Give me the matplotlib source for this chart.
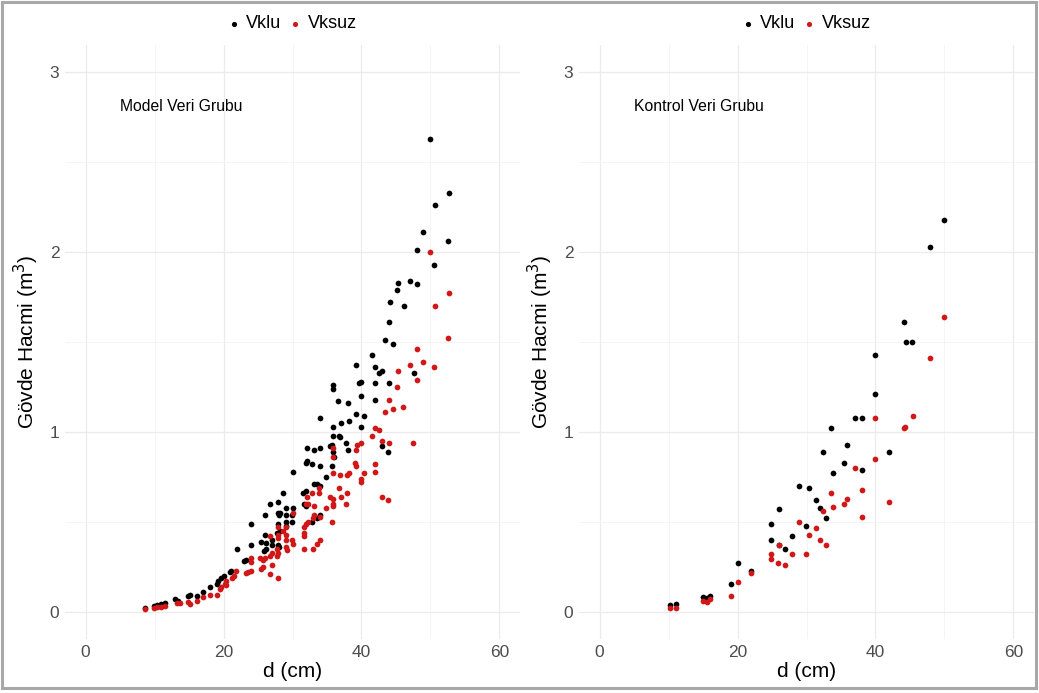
import matplotlib
matplotlib.use("Agg")
import matplotlib.pyplot as plt
from matplotlib.patches import Rectangle
from matplotlib.ticker import MultipleLocator

plt.rcParams['font.family'] = ['Liberation Sans', 'DejaVu Sans']

# model group (left panel)
model_d_klu = [49.9, 52.7, 50.7, 49.0, 52.5, 48.0, 50.5, 45.3, 47.0, 48.0,
               45.2, 44.1, 46.2, 44.0, 43.4, 44.6, 41.5, 39.2, 42.0, 43.0,
               42.5, 47.6, 39.6, 40.0, 42.0, 44.0, 35.9, 35.9, 40.0, 41.9,
               36.6, 38.0, 34.0, 39.2, 40.3, 37.0, 38.2, 35.9, 40.0, 35.9,
               36.7, 36.9, 37.7, 35.8, 35.5, 35.9, 36.0, 34.0, 32.1, 33.1,
               38.0, 43.0, 43.8, 32.1, 32.0, 32.8, 34.0, 35.7, 30.1, 34.8,
               33.1, 33.6, 34.0, 32.0, 31.5, 28.6, 31.6, 31.9, 29.1, 30.1,
               28.2, 29.0, 29.9, 34.0, 33.6, 32.9, 29.0, 29.9, 29.0, 26.7,
               27.9, 26.0, 27.9, 28.0, 24.0, 27.9, 28.2, 27.7, 26.0, 25.4,
               26.2, 27.0, 26.1, 25.9, 27.0, 27.9, 28.1, 22.0, 24.0, 23.2,
               23.0, 21.1, 20.9, 20.0, 19.7, 19.0, 18.0, 8.6, 9.9, 10.3,
               10.9, 11.5, 13.0, 13.4, 14.8, 15.1, 16.1, 17.0, 19.2]
model_v_klu = [2.63, 2.33, 2.26, 2.11, 2.06, 2.01, 1.93, 1.83, 1.84, 1.82,
               1.79, 1.72, 1.70, 1.61, 1.51, 1.49, 1.43, 1.37, 1.36, 1.34,
               1.33, 1.33, 1.27, 1.28, 1.27, 1.27, 1.26, 1.24, 1.20, 1.18,
               1.17, 1.16, 1.08, 1.10, 1.09, 1.05, 1.06, 1.03, 1.03, 0.98,
               0.98, 0.97, 0.94, 0.93, 0.92, 0.89, 0.86, 0.91, 0.91, 0.90,
               0.90, 0.92, 0.89, 0.84, 0.83, 0.82, 0.81, 0.81, 0.78, 0.75,
               0.71, 0.71, 0.70, 0.67, 0.66, 0.66, 0.60, 0.59, 0.58, 0.58,
               0.55, 0.54, 0.54, 0.54, 0.52, 0.50, 0.50, 0.50, 0.48, 0.60,
               0.61, 0.54, 0.55, 0.54, 0.49, 0.49, 0.45, 0.44, 0.43, 0.39,
               0.385, 0.40, 0.35, 0.34, 0.37, 0.37, 0.36, 0.35, 0.37, 0.29,
               0.285, 0.23, 0.22, 0.20, 0.19, 0.155, 0.14, 0.024, 0.033, 0.039,
               0.043, 0.048, 0.07, 0.063, 0.09, 0.096, 0.089, 0.11, 0.17]
model_d_ksuz = [49.9, 52.7, 50.7, 52.5, 48.0, 49.0, 47.0, 50.5, 45.3, 45.2,
                48.0, 44.0, 46.1, 47.5, 44.6, 43.4, 42.0, 42.5, 41.5, 43.0,
                44.0, 40.0, 39.4, 39.2, 35.9, 35.9, 39.1, 39.2, 41.9, 42.0,
                40.3, 35.9, 36.9, 37.9, 38.2, 39.9, 40.0, 33.9, 33.9, 32.9,
                36.7, 37.0, 37.9, 35.5, 35.9, 35.9, 35.9, 32.1, 32.0, 32.3,
                33.1, 34.8, 37.7, 43.0, 43.8, 30.1, 33.1, 33.0, 34.0, 32.0,
                35.7, 32.2, 31.7, 31.7, 31.6, 33.0, 33.6, 34.0, 29.0, 29.1,
                27.9, 27.9, 29.9, 30.1, 29.0, 29.2, 27.8, 27.9, 27.8, 26.7,
                27.0, 26.7, 26.0, 25.7, 25.3, 24.0, 24.0, 27.0, 25.4, 25.7,
                27.9, 26.7, 24.0, 23.6, 23.2, 21.8, 21.5, 21.2, 20.4, 20.2,
                19.7, 19.5, 8.6, 9.9, 10.3, 10.9, 11.5, 13.3, 13.7, 14.9,
                15.1, 16.1, 17.0, 18.0, 19.0, 20.3, 27.9, 28.6, 29.0, 31.7]
model_v_ksuz = [2.00, 1.77, 1.70, 1.52, 1.46, 1.39, 1.37, 1.36, 1.34, 1.25,
                1.29, 1.18, 1.14, 0.94, 1.13, 1.11, 1.02, 1.01, 0.98, 0.95,
                0.94, 0.94, 0.93, 0.90, 0.91, 0.86, 0.83, 0.81, 0.82, 0.78,
                0.77, 0.77, 0.76, 0.76, 0.77, 0.74, 0.72, 0.69, 0.66, 0.66,
                0.69, 0.64, 0.66, 0.64, 0.63, 0.60, 0.59, 0.64, 0.60, 0.60,
                0.59, 0.58, 0.60, 0.64, 0.62, 0.55, 0.54, 0.52, 0.53, 0.49,
                0.50, 0.50, 0.44, 0.42, 0.35, 0.35, 0.38, 0.40, 0.43, 0.40,
                0.43, 0.41, 0.40, 0.38, 0.36, 0.345, 0.35, 0.33, 0.31, 0.42,
                0.33, 0.31, 0.30, 0.29, 0.30, 0.30, 0.28, 0.26, 0.24, 0.25,
                0.19, 0.21, 0.23, 0.22, 0.215, 0.23, 0.20, 0.19, 0.17, 0.155,
                0.14, 0.13, 0.015, 0.021, 0.026, 0.030, 0.035, 0.052, 0.048, 0.057,
                0.043, 0.063, 0.083, 0.096, 0.094, 0.15, 0.47, 0.45, 0.47, 0.47]

# control group (right panel)
kontrol_d_klu = [50.0, 47.9, 44.1, 44.5, 45.3, 40.0, 40.0, 37.0, 38.0, 33.5,
                 35.9, 32.4, 42.0, 35.4, 38.0, 33.9, 28.9, 30.4, 31.4, 31.9,
                 26.0, 32.9, 24.9, 29.9, 27.9, 24.9, 26.9, 20.0, 22.0, 19.0,
                 15.0, 15.5, 16.0, 10.2, 11.1, 26.0]
kontrol_v_klu = [2.18, 2.03, 1.61, 1.50, 1.50, 1.43, 1.21, 1.08, 1.08, 1.02,
                 0.93, 0.89, 0.89, 0.83, 0.79, 0.77, 0.70, 0.69, 0.62, 0.58,
                 0.57, 0.525, 0.49, 0.48, 0.42, 0.40, 0.35, 0.27, 0.23, 0.155,
                 0.083, 0.076, 0.09, 0.04, 0.046, 0.375]
kontrol_d_ksuz = [50.0, 47.9, 44.1, 44.3, 45.4, 40.0, 40.0, 37.0, 38.0, 33.5,
                  35.9, 35.4, 33.9, 32.4, 42.0, 38.0, 28.9, 31.4, 30.4, 31.9,
                  32.9, 26.0, 29.9, 24.9, 24.9, 25.9, 26.9, 27.9, 20.0, 22.0,
                  19.0, 15.0, 15.5, 16.0, 10.2, 11.1]
kontrol_v_ksuz = [1.64, 1.41, 1.02, 1.03, 1.09, 1.08, 0.85, 0.80, 0.68, 0.66,
                  0.63, 0.60, 0.585, 0.56, 0.61, 0.53, 0.50, 0.465, 0.43, 0.40,
                  0.375, 0.375, 0.32, 0.32, 0.295, 0.27, 0.26, 0.325, 0.167, 0.215,
                  0.087, 0.062, 0.058, 0.07, 0.02, 0.024]

RED = '#d01818'


def panel(ax, d_klu, v_klu, d_ksuz, v_ksuz, label):
    ax.scatter(d_klu, v_klu, s=17, color='black', linewidths=0, label='Vklu', zorder=3)
    ax.scatter(d_ksuz, v_ksuz, s=17, color=RED, linewidths=0, label='Vksuz', zorder=4)
    ax.set_xlim(-3, 63)
    ax.set_ylim(-0.15, 3.15)
    ax.xaxis.set_major_locator(MultipleLocator(20))
    ax.xaxis.set_minor_locator(MultipleLocator(10))
    ax.yaxis.set_major_locator(MultipleLocator(1))
    ax.yaxis.set_minor_locator(MultipleLocator(0.5))
    ax.grid(which='major', color='#ebebeb', linewidth=0.9)
    ax.grid(which='minor', color='#f2f2f2', linewidth=0.5)
    ax.set_axisbelow(True)
    for sp in ax.spines.values():
        sp.set_visible(False)
    ax.tick_params(which='both', length=0, labelsize=12.5, labelcolor='#4d4d4d', pad=4)
    ax.set_xlabel('d (cm)', fontsize=15, labelpad=2)
    ax.set_ylabel('Gövde Hacmi (m$^3$)', fontsize=15, labelpad=6)
    ax.text(5, 2.81, label, fontsize=11.3, ha='left', va='center')
    ax.legend(loc='lower center', bbox_to_anchor=(0.5, 1.0), ncol=2, frameon=False,
              fontsize=13, handlelength=0.6, handletextpad=0.4, columnspacing=0.45,
              markerscale=0.9, borderaxespad=0.3)


fig = plt.figure(figsize=(10.39, 6.93), dpi=100)
ax1 = fig.add_axes([65 / 1039, 54 / 693, 455 / 1039, 594 / 693])
ax2 = fig.add_axes([579 / 1039, 54 / 693, 455 / 1039, 594 / 693])

panel(ax1, model_d_klu, model_v_klu, model_d_ksuz, model_v_ksuz, 'Model Veri Grubu')
panel(ax2, kontrol_d_klu, kontrol_v_klu, kontrol_d_ksuz, kontrol_v_ksuz, 'Kontrol Veri Grubu')

fig.patches.append(Rectangle((2 / 1039, 5 / 693), 1034 / 1039, 686 / 693, transform=fig.transFigure,
                             fill=False, edgecolor='#a8a8a8', linewidth=2.2))

fig.savefig('out.png', dpi=100)
